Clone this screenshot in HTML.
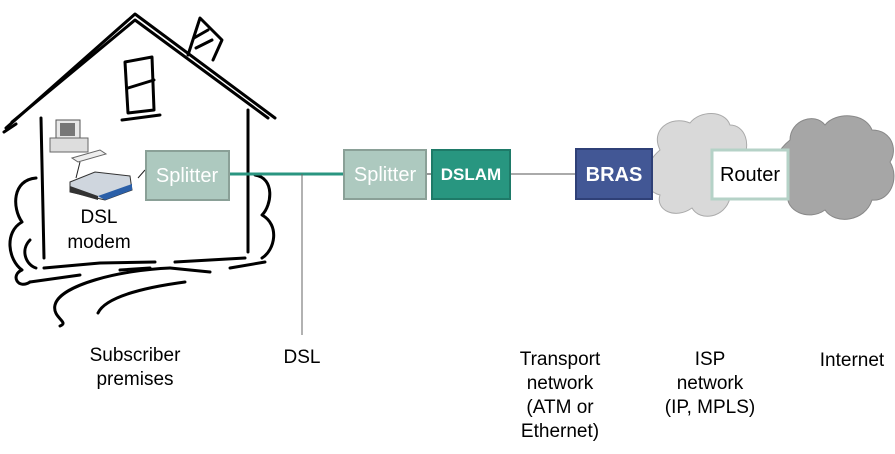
<!DOCTYPE html>
<html><head><meta charset="utf-8"><style>
body{margin:0;background:#fff;width:895px;height:454px;overflow:hidden}
svg{display:block}
text{font-family:"Liberation Sans",Arial,sans-serif}
</style></head><body>
<svg width="895" height="454" viewBox="0 0 895 454">
<g fill="none" stroke="#000" stroke-width="3" stroke-linecap="round" stroke-linejoin="round">
<path d="M6 128 L135 14 L275 118"/>
<path d="M12 122 L135 20 L268 118"/>
<path d="M4 132 L16 124"/>
<path d="M188 55 L200 18 L222 40 L213 60"/>
<path d="M194 38 L208 30 M196 48 L212 40"/>
<path d="M41 118 L44 258"/>
<path d="M248 110 L248 252"/>
<path d="M125 62 L152 57 L154 110 L128 113 Z"/>
<path d="M128 88 L154 80"/>
<path d="M122 120 L160 115"/>
<path d="M44 268 L100 263 L155 262 M175 262 L245 258"/>
<path d="M30 282 L80 275 M120 270 L150 268 M170 268 L210 272 M230 268 L265 262"/>
<path d="M36 178 C12 180 12 208 22 222 C4 232 8 260 22 270 C10 275 18 290 30 282"/>
<path d="M30 240 C20 250 26 265 36 268"/>
<path d="M255 175 C275 178 272 205 262 215 C280 225 275 250 262 258"/>
<path d="M170 268 C120 270 60 285 55 305 C52 318 70 322 60 326"/>
<path d="M185 282 C140 288 105 298 98 313"/>
</g>
<rect x="56" y="120" width="24" height="20" fill="#e8e8e8" stroke="#555"/>
<rect x="60" y="123" width="15" height="13" fill="#777"/>
<rect x="50" y="138" width="38" height="14" fill="#ddd" stroke="#666"/>
<path d="M72 158 L100 150 L106 154 L78 162 Z" fill="#eee" stroke="#666"/>
<path d="M80 162 L76 178 M138 178 L145 170" stroke="#222"/>
<path d="M70 182 L95 172 L130 176 L132 190 L105 200 L70 192 Z" fill="#cfd6de" stroke="#333"/>
<path d="M98 196 L132 184 L132 190 L105 200 Z" fill="#2a5fa8"/>
<path d="M70 186 L98 196 L98 200 L70 192Z" fill="#333"/>
<text x="99" y="223" font-size="19" text-anchor="middle">DSL</text>
<text x="99" y="248" font-size="19" text-anchor="middle">modem</text>
<line x1="229" y1="174" x2="343" y2="174" stroke="#2a9580" stroke-width="3"/>
<line x1="302" y1="174" x2="302" y2="335" stroke="#666" stroke-width="1"/>
<line x1="426" y1="174" x2="431" y2="174" stroke="#333"/>
<line x1="510" y1="174" x2="575" y2="174" stroke="#555"/>
<path d="M660 150 C650 130 670 115 690 123 C700 110 725 110 730 125 C745 125 752 145 742 160 C752 175 742 200 730 198 C725 218 700 222 692 208 C675 220 655 210 660 195 C640 190 642 165 660 150Z" fill="#d9d9d9" stroke="#aaa"/>
<path d="M790 140 C790 120 815 112 825 125 C835 112 865 112 872 130 C892 130 898 150 890 162 C900 178 890 202 872 200 C865 222 835 225 825 210 C808 222 785 210 788 195 C768 192 765 160 790 140Z" fill="#a6a6a6" stroke="#888"/>
<rect x="146" y="151" width="83" height="49" fill="#adc9bf" stroke="#8aa097" stroke-width="2"/>
<text x="187" y="182" font-size="20" fill="#fff" text-anchor="middle">Splitter</text>
<rect x="344" y="150" width="82" height="49" fill="#adc9bf" stroke="#8aa097" stroke-width="2"/>
<text x="385" y="181" font-size="20" fill="#fff" text-anchor="middle">Splitter</text>
<rect x="432" y="150" width="78" height="49" fill="#289680" stroke="#1e7a68" stroke-width="2"/>
<text x="471" y="180" font-size="17" font-weight="bold" fill="#fff" text-anchor="middle">DSLAM</text>
<rect x="576" y="149" width="76" height="50" fill="#425795" stroke="#2f4077" stroke-width="2"/>
<text x="614" y="181" font-size="20" font-weight="bold" fill="#fff" text-anchor="middle">BRAS</text>
<rect x="712" y="150" width="76" height="49" fill="#fff" stroke="#b5d2c7" stroke-width="3"/>
<text x="750" y="181" font-size="20" fill="#000" text-anchor="middle">Router</text>
<g font-size="19" text-anchor="middle" fill="#000">
<text x="135" y="361">Subscriber</text><text x="135" y="385">premises</text>
<text x="302" y="363">DSL</text>
<text x="560" y="365">Transport</text><text x="560" y="389">network</text><text x="560" y="413">(ATM or</text><text x="560" y="437">Ethernet)</text>
<text x="710" y="365">ISP</text><text x="710" y="389">network</text><text x="710" y="413">(IP, MPLS)</text>
<text x="852" y="366">Internet</text>
</g>
</svg>
</body></html>
